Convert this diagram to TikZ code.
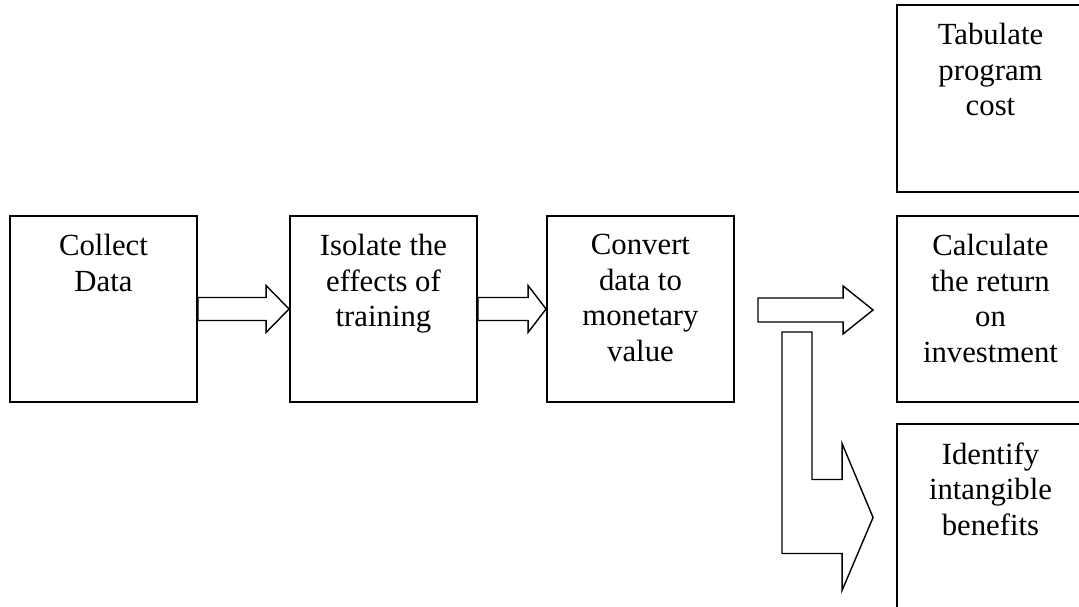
\documentclass[tikz,border=0pt]{standalone}
\usepackage{fontspec}
\setmainfont{Liberation Serif}
\usepackage{tikz}
\usetikzlibrary{calc,positioning}
\newcommand{\stagefont}{\fontsize{17.5}{20.2}\selectfont}
\tikzset{
    stage/.style={
        draw,line width=1.1pt,
        fill=white,
        minimum width=3.74cm,minimum height=3.72cm,
        inner sep=0pt
    },
    stage text/.style={
        anchor=north,align=center,
        inner sep=0pt,yshift=-0.38cm,
        font=\stagefont
    },
    fat arrow/.style={
        draw,line width=0.8pt,fill=white,line join=miter
    }
}
% outlined block arrow from #1 to the tip #2: shaft half width, head half width, head length
\newcommand{\fatarrow}[5]{%
    \draw[fat arrow] ($(#1)+(0,-#3)$) -- ($(#2)+(-#5,-#3)$) -- ($(#2)+(-#5,-#4)$)
        -- (#2) -- ($(#2)+(-#5,#4)$) -- ($(#2)+(-#5,#3)$) -- ($(#1)+(0,#3)$) -- cycle;
}

\begin{document}
\begin{tikzpicture}[x=0.02cm,y=-0.02cm]
\useasboundingbox (0,0) rectangle (1079,607);
\clip (0,0) rectangle (1079,607);

% main chain
\node[stage,label={[stage text]north:Collect\\Data}] (collect) at (103.5,309) {};
\node[stage,label={[stage text]north:Isolate the\\effects of\\training}] (isolate) at (383.5,309) {};
\node[stage,label={[stage text]north:Convert\\data to\\monetary\\value}] (convert) at (640.5,309) {};

% right column
\node[stage,minimum height=3.74cm,label={[stage text]north:Tabulate\\program\\cost}] (cost) at (990.5,98.5) {};
\node[stage,label={[stage text]north:Calculate\\the return\\on\\investment}] (roi) at (990.5,309) {};
\node[stage,minimum height=3.74cm,label={[stage text]north:Identify\\intangible\\benefits}] (benefits) at (990.5,517.5) {};

\fatarrow{collect.east}{isolate.west}{11.5}{23.5}{23}
\fatarrow{isolate.east}{convert.west}{11.5}{23.5}{18}

\coordinate (split) at ($(convert.east)+(23,1)$);
\coordinate (roi-tip) at ($(roi.west)+(-23,1)$);
\fatarrow{split}{roi-tip}{12}{24}{30}

% bent arrow down to the intangible benefits
\coordinate (drop) at ($(split)+(24,22)$);
\coordinate (ben-tip) at ($(benefits.west)+(-23,0)$);
\draw[fat arrow] (drop) -- ++(30,0) |- ($(ben-tip)+(-31,-38)$) -- ++(0,-36) -- (ben-tip)
    -- ++(-31,73) -- ++(0,-37) -| (drop) -- cycle;
\end{tikzpicture}
\end{document}
